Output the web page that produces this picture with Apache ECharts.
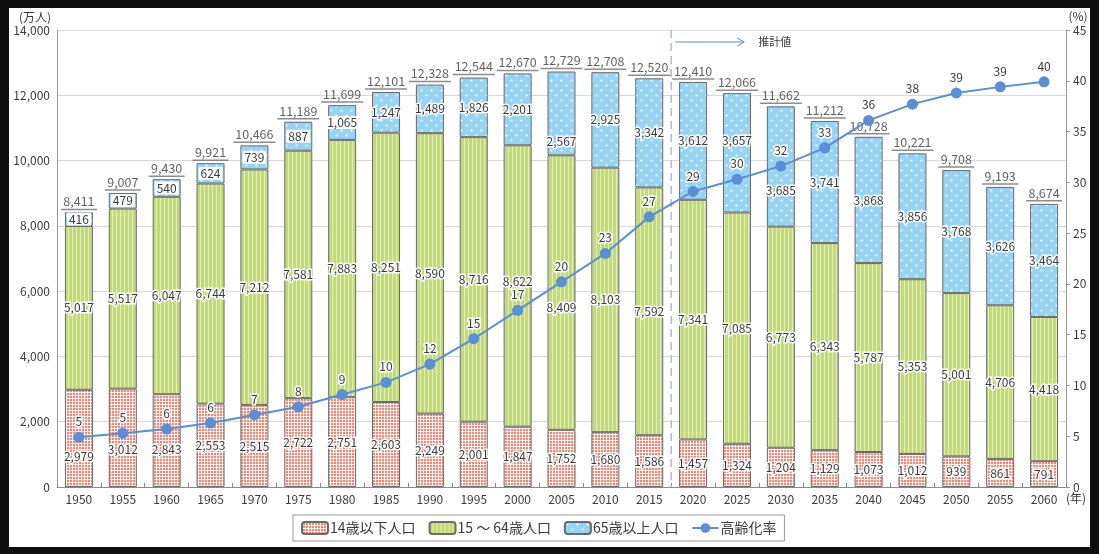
<!DOCTYPE html>
<html><head><meta charset="utf-8">
<script src="https://cdn.jsdelivr.net/npm/echarts@6/dist/echarts.min.js"></script>
<style>
html,body{margin:0;padding:0;background:#0e0e0e;width:1099px;height:554px;overflow:hidden}
#c{position:absolute;left:9px;top:8px;width:1081px;height:539px;background:#fff}
</style></head>
<body><div id="c"></div>
<script>
// ---- data ----
const years = ['1950','1955','1960','1965','1970','1975','1980','1985','1990','1995','2000','2005','2010','2015','2020','2025','2030','2035','2040','2045','2050','2055','2060'];
const age0to14 = [2979,3012,2843,2553,2515,2722,2751,2603,2249,2001,1847,1752,1680,1586,1457,1324,1204,1129,1073,1012,939,861,791];
const age15to64 = [5017,5517,6047,6744,7212,7581,7883,8251,8590,8716,8622,8409,8103,7592,7341,7085,6773,6343,5787,5353,5001,4706,4418];
const age65plus = [416,479,540,624,739,887,1065,1247,1489,1826,2201,2567,2925,3342,3612,3657,3685,3741,3868,3856,3768,3626,3464];
const totals = [8411,9007,9430,9921,10466,11189,11699,12101,12328,12544,12670,12729,12708,12520,12410,12066,11662,11212,10728,10221,9708,9193,8674];
const agingRate = [4.9,5.3,5.7,6.3,7.1,7.9,9.1,10.3,12.1,14.6,17.4,20.2,23.0,26.6,29.1,30.3,31.6,33.4,36.1,37.7,38.8,39.4,39.9];
const leftTicks = {min:0, max:14000, interval:2000};
const rightTicks = {min:0, max:45, interval:5};
const names = ['14歳以下人口','15 ～ 64歳人口','65歳以上人口','高齢化率'];

// ---- styling ----
const FONT = '"Noto Sans CJK JP","Noto Sans",sans-serif';
const TXT = '#3a3a3a';
const fmt = v => Number(v).toLocaleString('en-US');
// label nudges (pixels) to keep labels clear of the line, by year
const nudgeKids = {'1950':18,'1955':12,'1960':9};
const nudgeWork = {'2005':15,'2000':-5};
const nudgeOld = {'2005':28,'2025':-12,'2030':24};

function pat(w,h,draw){const c=document.createElement('canvas');c.width=w;c.height=h;const g=c.getContext('2d');draw(g);return {image:c,repeat:'repeat'};}
const redPat = pat(3,3,g=>{g.fillStyle='#fdf0ec';g.fillRect(0,0,3,3);g.fillStyle='#ee8676';g.fillRect(1,1,2,2);});
const greenPat = pat(4,4,g=>{g.fillStyle='#c2db72';g.fillRect(0,0,4,4);g.fillStyle='#e2efb4';g.fillRect(3,0,1,4);});
const bluePat = pat(10,10,g=>{g.fillStyle='#97d3f2';g.fillRect(0,0,10,10);g.fillStyle='#fff';g.beginPath();g.arc(2.5,2.5,1.1,0,7);g.fill();g.beginPath();g.arc(7.5,7.5,1.1,0,7);g.fill();});

const baseLabel = {show:true, position:'inside', color:TXT, fontSize:12, fontFamily:FONT, textBorderColor:'#fff', textBorderWidth:3, formatter:p=>fmt(p.value)};
function items(arr, nudge, extra){
  return arr.map((v,i)=>{
    const o={value:v};
    const lab={};
    if(nudge[years[i]]) lab.offset=[0,nudge[years[i]]];
    if(extra) Object.assign(lab, extra(i,v));
    if(Object.keys(lab).length) o.label=lab;
    return o;
  });
}
const barStyle = c => ({color:c, borderColor:'#6a6a6a', borderWidth:1});

const chart = echarts.init(document.getElementById('c'), null, {renderer:'canvas'});
const option = {
  animation:false,
  backgroundColor:'#fff',
  textStyle:{fontFamily:FONT},
  grid:{left:48, right:24, top:22, bottom:60},
  legend:{
    data:names, left:284, top:507, padding:[6,8], itemGap:13, itemWidth:26, itemHeight:12,
    borderColor:'#999', borderWidth:1,
    textStyle:{fontSize:14, color:TXT, fontFamily:FONT, padding:[0,0,0,-3]}
  },
  xAxis:{
    type:'category', data:years,
    axisLine:{lineStyle:{color:'#8a8a8a'}},
    axisTick:{show:true, inside:true, length:4, lineStyle:{color:'#8a8a8a'}},
    axisLabel:{color:TXT, fontSize:12, margin:6, fontFamily:FONT}
  },
  yAxis:[
    {type:'value', ...leftTicks, position:'left',
     axisLine:{show:true, lineStyle:{color:'#9a9a9a'}}, axisTick:{show:false},
     splitLine:{lineStyle:{color:'#d9d9d9'}},
     axisLabel:{color:TXT, fontSize:12, margin:7, formatter:v=>fmt(v), fontFamily:FONT}},
    {type:'value', ...rightTicks, position:'right',
     axisLine:{show:true, lineStyle:{color:'#9a9a9a'}},
     axisTick:{show:true, length:4, lineStyle:{color:'#9a9a9a'}},
     splitLine:{show:false},
     axisLabel:{color:TXT, fontSize:12, margin:7, fontFamily:FONT}}
  ],
  series:[
    {name:names[0], type:'bar', stack:'pop', barWidth:28, itemStyle:barStyle(redPat),
     label:baseLabel, data:items(age0to14, nudgeKids)},
    {name:names[1], type:'bar', stack:'pop', barWidth:28, itemStyle:barStyle(greenPat),
     label:baseLabel, data:items(age15to64, nudgeWork)},
    {name:names[2], type:'bar', stack:'pop', barWidth:28, itemStyle:barStyle(bluePat),
     label:baseLabel,
     data:items(age65plus, nudgeOld, (i,v)=> v<1100 ? {backgroundColor:'#fff', padding:[1,2,0,2], textBorderWidth:0} : {})},
    {name:'total', type:'scatter', silent:true, z:5,
     symbol:'rect', symbolSize:(v)=> v>=10000 ? [42,1.5] : [36,1.5], symbolOffset:[0,-3],
     itemStyle:{color:'#707070'},
     label:{show:true, position:'top', distance:1, color:TXT, fontSize:12.5, fontFamily:FONT, formatter:p=>fmt(p.value)},
     data:totals},
    {name:names[3], type:'line', yAxisIndex:1, z:6,
     symbol:'circle', symbolSize:11,
     lineStyle:{color:'#5b8ed4', width:2}, itemStyle:{color:'#5b8ed4'},
     label:{show:true, position:'top', distance:4, color:TXT, fontSize:12, fontFamily:FONT,
            textBorderColor:'#fff', textBorderWidth:3, formatter:p=>Math.round(p.value)},
     data:agingRate}
  ]
};
chart.setOption(option);

// projection divider between 2015 and 2020 + annotation
const x1 = chart.convertToPixel({xAxisIndex:0}, '2015');
const x2 = chart.convertToPixel({xAxisIndex:0}, '2020');
const xm = (x1+x2)/2;
const yTop = chart.convertToPixel({yAxisIndex:0}, 14000);
const yBot = chart.convertToPixel({yAxisIndex:0}, 0);
chart.setOption({graphic:[
  {type:'line', silent:true, z:1, shape:{x1:xm,y1:yTop,x2:xm,y2:yBot}, style:{stroke:'#a9bedb', lineWidth:1.5, lineDash:[8,5]}},
  {type:'line', silent:true, shape:{x1:xm+4,y1:yTop+12,x2:xm+73,y2:yTop+12}, style:{stroke:'#5b8ed4', lineWidth:1}},
  {type:'polyline', silent:true, shape:{points:[[xm+66,yTop+8],[xm+73,yTop+12],[xm+66,yTop+16]]}, style:{stroke:'#5b8ed4', lineWidth:1, fill:null}},
  {type:'text', silent:true, style:{text:'推計値', x:xm+87, y:yTop+12, verticalAlign:'middle', fontSize:11, fill:TXT, fontFamily:FONT}},
  {type:'text', silent:true, style:{text:'(万人)', x:42, y:9, align:'right', verticalAlign:'middle', fontSize:12, fill:TXT, fontFamily:FONT}},
  {type:'text', silent:true, style:{text:'(%)', x:1069, y:8, align:'center', verticalAlign:'middle', fontSize:12, fill:TXT, fontFamily:FONT}},
  {type:'text', silent:true, style:{text:'(年)', x:1057, y:490, align:'left', verticalAlign:'middle', fontSize:12, fill:TXT, fontFamily:FONT}}
]});
</script>
</body></html>
